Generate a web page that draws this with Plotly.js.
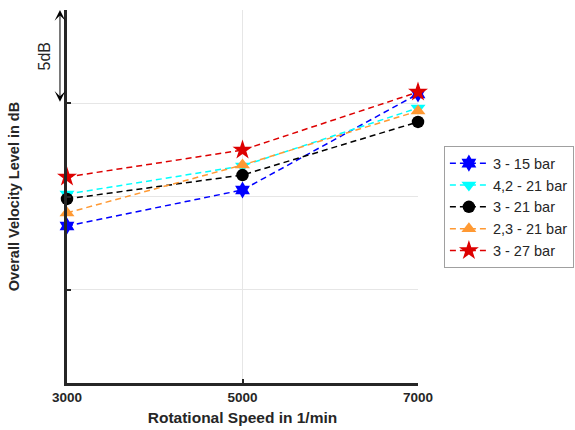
<!DOCTYPE html>
<html>
<head>
<meta charset="utf-8">
<script src="https://cdn.plot.ly/plotly-3.0.1.min.js"></script>
<style>html,body{margin:0;padding:0;background:#fff;}#chart{width:575px;height:430px;}</style>
</head>
<body>
<div id="chart"></div>
<script>
const speeds = [3000, 5000, 7000];
const seriesNames = ["3 - 15 bar", "4,2 - 21 bar", "3 - 21 bar", "2,3 - 21 bar", "3 - 27 bar"];
const lvl_3_15 = [8.42, 10.35, 15.5];
const lvl_42_21 = [10.13, 11.64, 14.75];
const lvl_3_21 = [9.87, 11.15, 14.0];
const lvl_23_21 = [9.12, 11.69, 14.58];
const lvl_3_27 = [11.05, 12.49, 15.6];
const yTicks = [0, 5, 10, 15, 20];
const xTicks = [3000, 5000, 7000];

const colors = ["#0000ff", "#00ffff", "#000000", "#ff9933", "#dd0000"];
const symbols = ["hexagram", "triangle-down", "circle", "triangle-up", "star"];
const sizes = [13, 13, 12.5, 13, 15];
const allData = [lvl_3_15, lvl_42_21, lvl_3_21, lvl_23_21, lvl_3_27];

const traces = allData.map((vals, i) => ({
  x: speeds, y: vals, name: seriesNames[i], type: "scatter", mode: "lines+markers",
  cliponaxis: false,
  line: {color: colors[i], dash: "6px,4px", width: 1.5},
  marker: {color: colors[i], symbol: symbols[i], size: sizes[i], line: {width: 0}}
}));

const layout = {
  width: 575, height: 430,
  margin: {l: 67, r: 157, t: 10, b: 47, autoexpand: false},
  paper_bgcolor: "#fff", plot_bgcolor: "#fff",
  font: {family: "Liberation Sans, Arial, sans-serif", color: "#262626"},
  showlegend: true,
  legend: {xref: "container", yref: "container", x: 0.772, y: 0.66, xanchor: "left", yanchor: "top",
           bordercolor: "#a0a0a0", borderwidth: 1,
           font: {size: 14.5, color: "#262626"}, tracegroupgap: 0, itemwidth: 38},
  xaxis: {range: [3000, 7000], tickvals: xTicks, ticktext: xTicks.map(String),
          showline: true, linewidth: 3, linecolor: "#262626", mirror: false,
          ticks: "inside", ticklen: 4, tickwidth: 2, tickcolor: "#262626",
          showgrid: true, gridcolor: "#e6e6e6", gridwidth: 1, zeroline: false,
          tickfont: {size: 13.5, family: "Liberation Sans, Arial, sans-serif", weight: "bold"},
          title: {text: "<b>Rotational Speed in 1/min</b>", font: {size: 15.5}, standoff: 8}},
  yaxis: {range: [0, 20], tickvals: yTicks, showticklabels: false,
          showline: true, linewidth: 3, linecolor: "#262626",
          ticks: "inside", ticklen: 4, tickwidth: 2, tickcolor: "#262626",
          showgrid: true, gridcolor: "#e6e6e6", gridwidth: 1, zeroline: false,
          title: {text: "<b>Overall Velocity Level in dB</b>", font: {size: 14.5}, standoff: 41}},
  annotations: [
    {xref: "paper", yref: "y", x: -0.02, y: 20, axref: "pixel", ayref: "y", ax: 0, ay: 15,
     showarrow: true, arrowhead: 3, startarrowhead: 3, arrowside: "end+start", arrowsize: 1.8,
     startarrowsize: 1.8, arrowwidth: 1, arrowcolor: "#000", text: ""},
    {xref: "paper", yref: "y", x: -0.063, y: 17.5, text: "5dB", textangle: -90, showarrow: false,
     font: {size: 16, color: "#262626"}, xanchor: "center", yanchor: "middle"}
  ]
};

Plotly.newPlot("chart", traces, layout, {displayModeBar: false, staticPlot: true});
</script>
</body>
</html>
